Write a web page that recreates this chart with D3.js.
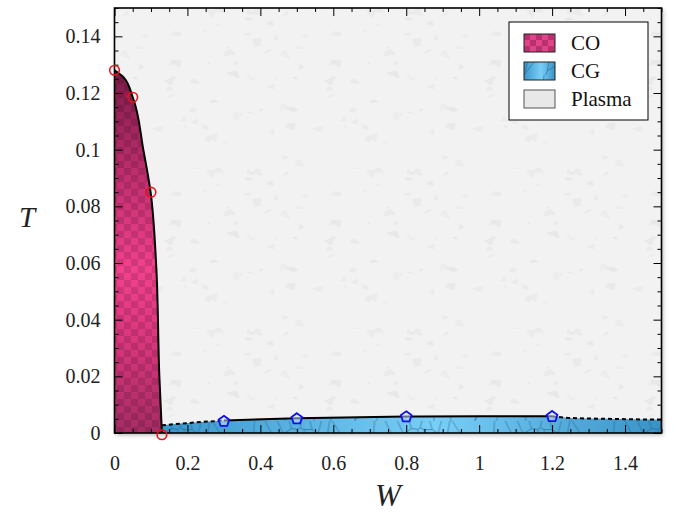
<!DOCTYPE html>
<html>
<head>
<meta charset="utf-8">
<script src="https://cdn.jsdelivr.net/npm/d3@7"></script>
<style>
  body { margin: 0; background: #fff; }
</style>
</head>
<body>
<svg id="chart" width="680" height="514"></svg>
<script>
// phase boundary of the CO region (W as a function of T)
const coW = [0, 0.025, 0.05, 0.079, 0.099, 0.114, 0.123, 0.13]
const coT = [0.128, 0.1255, 0.1185, 0.1, 0.085, 0.06, 0.02, 0]
// upper boundary of the CG region
const cgW = [0.13, 0.2, 0.3, 0.5, 0.8, 1.0, 1.2, 1.25, 1.35, 1.5]
const cgT = [0.0027, 0.0035, 0.0044, 0.0052, 0.0058, 0.0059, 0.0059, 0.0053, 0.005, 0.0047]
// simulation points
const coPtsW = [0, 0.05, 0.1, 0.13]
const coPtsT = [0.128, 0.1185, 0.085, -0.0006]
const cgPtsW = [0.3, 0.5, 0.8, 1.2]
const cgPtsT = [0.0041, 0.005, 0.0057, 0.0058]
// axes
const xTicks = [0, 0.2, 0.4, 0.6, 0.8, 1, 1.2, 1.4]
const xTickLabels = ["0", "0.2", "0.4", "0.6", "0.8", "1", "1.2", "1.4"]
const yTicks = [0, 0.02, 0.04, 0.06, 0.08, 0.1, 0.12, 0.14]
const yTickLabels = ["0", "0.02", "0.04", "0.06", "0.08", "0.1", "0.12", "0.14"]
const legendLabels = ["CO", "CG", "Plasma"]

const margin = {top: 8, right: 18.5, bottom: 81, left: 114.5}
const width = 680, height = 514
const w = width - margin.left - margin.right
const h = height - margin.top - margin.bottom
const serif = "'Liberation Serif'"

const svg = d3.select("#chart")
const defs = svg.append("defs")

const x = d3.scaleLinear().domain([0, 1.5]).range([0, w])
const y = d3.scaleLinear().domain([0, 0.15]).range([h, 0])

// small deterministic generator, only used for background textures
let seed = 11
function rnd() { seed = (seed * 16807) % 2147483647; return (seed - 1) / 2147483646 }

// --- textures ---
// plasma: pale grey with faint flakes
let pl = defs.append("pattern").attr("id", "plasma").attr("patternUnits", "userSpaceOnUse")
  .attr("width", 160).attr("height", 160)
pl.append("rect").attr("width", 160).attr("height", 160).attr("fill", "#f2f2f2")
for (let i = 0; i < 55; i++) {
  let cx = rnd() * 160, cy = rnd() * 160, r = 3 + rnd() * 7, a0 = rnd() * 6.28
  let n = 3 + Math.floor(rnd() * 2)
  let pts = d3.range(n).map(k => {
    let a = a0 + k * 6.28 / n + rnd() * 0.9, rr = r * (0.3 + rnd() * 0.9)
    return [cx + Math.cos(a) * rr, cy + Math.sin(a) * rr * 0.6]
  })
  pl.append("path").attr("d", "M" + pts.join("L") + "Z").attr("fill", "#e7e7e7").attr("opacity", 0.5 + rnd() * 0.4)
}

// CO: checkerboard over a vertical gradient
let coGrad = defs.append("linearGradient").attr("id", "coGrad").attr("x1", 0).attr("y1", 0).attr("x2", 0).attr("y2", 1)
coGrad.selectAll("stop").data([[0, "#7c1c48"], [0.3, "#c22f70"], [0.55, "#f2418d"], [0.75, "#d8367c"], [1, "#a52c64"]])
  .join("stop").attr("offset", d => d[0]).attr("stop-color", d => d[1])
let chk = defs.append("pattern").attr("id", "checker").attr("patternUnits", "userSpaceOnUse")
  .attr("width", 14).attr("height", 14).attr("x", margin.left).attr("y", margin.top + h)
chk.append("rect").attr("width", 7).attr("height", 7).attr("fill", "#000").attr("opacity", 0.13)
chk.append("rect").attr("x", 7).attr("y", 7).attr("width", 7).attr("height", 7).attr("fill", "#000").attr("opacity", 0.13)

// CG: cracked cells over a horizontal gradient
let cgGrad = defs.append("linearGradient").attr("id", "cgGrad").attr("x1", 0).attr("y1", 0).attr("x2", 1).attr("y2", 0)
cgGrad.selectAll("stop").data([[0, "#3a97cc"], [0.55, "#79cef7"], [1, "#3992c6"]])
  .join("stop").attr("offset", d => d[0]).attr("stop-color", d => d[1])
let cell = defs.append("pattern").attr("id", "cells").attr("patternUnits", "userSpaceOnUse")
  .attr("width", 120).attr("height", 40).attr("y", margin.top + h - 20)
let seeds = d3.range(26).map(() => [rnd() * 120, rnd() * 40])
let vor = d3.Delaunay.from(seeds).voronoi([0, 0, 120, 40])
cell.append("path").attr("d", vor.render()).attr("fill", "none")
  .attr("stroke", "#23648f").attr("stroke-width", 0.8).attr("opacity", 0.75)

// legend swatch versions
let chkS = defs.append("pattern").attr("id", "checkerS").attr("patternUnits", "userSpaceOnUse")
  .attr("width", 12).attr("height", 12)
chkS.append("rect").attr("width", 12).attr("height", 12).attr("fill", "#e0458a")
chkS.append("rect").attr("width", 6).attr("height", 6).attr("fill", "#b8306e")
chkS.append("rect").attr("x", 6).attr("y", 6).attr("width", 6).attr("height", 6).attr("fill", "#b8306e")

let shadow = defs.append("filter").attr("id", "shadow").attr("x", -0.05).attr("y", -0.05).attr("width", 1.1).attr("height", 1.1)
shadow.append("feDropShadow").attr("dx", 1.5).attr("dy", 2).attr("stdDeviation", 2).attr("flood-color", "#000").attr("flood-opacity", 0.3)

let clip = defs.append("clipPath").attr("id", "plotClip")
clip.append("rect").attr("width", w).attr("height", h)

const g = svg.append("g").attr("transform", "translate(" + margin.left + "," + margin.top + ")")

g.append("rect").attr("width", w).attr("height", h).attr("fill", "#f2f2f2").attr("filter", "url(#shadow)")
g.append("rect").attr("width", w).attr("height", h).attr("fill", "url(#plasma)")

const plot = g.append("g").attr("clip-path", "url(#plotClip)")

// CO region
let coData = coW.map((d, i) => ({W: d, T: coT[i]}))
let coArea = d3.area()
  .y(d => y(d.T))
  .x0(x(0))
  .x1(d => x(d.W))
  .curve(d3.curveMonotoneY)
plot.append("path").datum(coData).attr("d", coArea).attr("fill", "url(#coGrad)")
plot.append("path").datum(coData).attr("d", coArea).attr("fill", "url(#checker)")

// CG region
let cgData = cgW.map((d, i) => ({W: d, T: cgT[i]}))
let cgArea = d3.area()
  .x(d => x(d.W))
  .y0(y(0))
  .y1(d => y(d.T))
  .curve(d3.curveMonotoneX)
plot.append("path").datum(cgData).attr("d", cgArea).attr("fill", "url(#cgGrad)")
plot.append("path").datum(cgData).attr("d", cgArea).attr("fill", "url(#cells)")

// boundaries
let coLine = d3.line().x(d => x(d.W)).y(d => y(d.T)).curve(d3.curveMonotoneY)
g.append("path").datum(coData).attr("d", coLine)
  .attr("fill", "none").attr("stroke", "#000").attr("stroke-width", 2)

let cgLine = d3.line().x(d => x(d.W)).y(d => y(d.T)).curve(d3.curveMonotoneX)
let segs = [
  {pts: cgData.filter(d => d.W <= 0.3), dash: "4,3"},
  {pts: cgData.filter(d => d.W >= 0.3 && d.W <= 1.2), dash: null},
  {pts: cgData.filter(d => d.W >= 1.2), dash: "4,3"}
]
segs.forEach(s => {
  g.append("path").datum(s.pts).attr("d", cgLine)
    .attr("fill", "none").attr("stroke", "#000").attr("stroke-width", 2)
    .attr("stroke-dasharray", s.dash)
})

// frame ticks (inside, all four sides)
const xMinor = d3.range(0, 1.5001, 0.05).filter(v => !xTicks.some(t => Math.abs(t - v) < 1e-6))
const yMinor = d3.range(0, 0.15001, 0.005).filter(v => !yTicks.some(t => Math.abs(t - v) < 1e-6))

function tickStyle(sel) {
  sel.select(".domain").remove()
  sel.selectAll("line").attr("stroke", "#000").attr("stroke-width", 1)
  sel.selectAll("text").attr("font-size", 20).attr("fill", "#222").style("font-family", serif)
}

g.append("g").attr("transform", "translate(0," + h + ")")
  .call(d3.axisBottom(x).tickValues(xTicks).tickSize(-8).tickPadding(23).tickFormat((d, i) => xTickLabels[i]))
  .call(tickStyle)
g.append("g").attr("transform", "translate(0," + h + ")")
  .call(d3.axisBottom(x).tickValues(xMinor).tickSize(-4).tickFormat("")).call(tickStyle)
g.append("g")
  .call(d3.axisTop(x).tickValues(xTicks).tickSize(-8).tickFormat("")).call(tickStyle)
g.append("g")
  .call(d3.axisTop(x).tickValues(xMinor).tickSize(-4).tickFormat("")).call(tickStyle)

g.append("g")
  .call(d3.axisLeft(y).tickValues(yTicks).tickSize(-8).tickPadding(14).tickFormat((d, i) => yTickLabels[i]))
  .call(tickStyle)
g.append("g")
  .call(d3.axisLeft(y).tickValues(yMinor).tickSize(-4).tickFormat("")).call(tickStyle)
g.append("g").attr("transform", "translate(" + w + ",0)")
  .call(d3.axisRight(y).tickValues(yTicks).tickSize(-8).tickFormat("")).call(tickStyle)
g.append("g").attr("transform", "translate(" + w + ",0)")
  .call(d3.axisRight(y).tickValues(yMinor).tickSize(-4).tickFormat("")).call(tickStyle)

g.append("rect").attr("width", w).attr("height", h)
  .attr("fill", "none").attr("stroke", "#000").attr("stroke-width", 1.6)

// markers
g.selectAll(".co-pt").data(coPtsW.map((d, i) => ({W: d, T: coPtsT[i]})))
  .join("circle").attr("class", "co-pt")
  .attr("cx", d => x(d.W)).attr("cy", d => y(d.T)).attr("r", 4.8)
  .attr("fill", "none").attr("stroke", "#e8141c").attr("stroke-width", 1.6)

function pentagon(r) {
  return "M" + d3.range(5).map(k => {
    let a = -Math.PI / 2 + k * 2 * Math.PI / 5
    return [Math.cos(a) * r, Math.sin(a) * r]
  }).join("L") + "Z"
}
g.selectAll(".cg-pt").data(cgPtsW.map((d, i) => ({W: d, T: cgPtsT[i]})))
  .join("path").attr("class", "cg-pt")
  .attr("transform", d => "translate(" + x(d.W) + "," + y(d.T) + ")")
  .attr("d", pentagon(5.6))
  .attr("fill", "#cfe6ff").attr("fill-opacity", 0.5)
  .attr("stroke", "#1010e8").attr("stroke-width", 1.8)

// axis titles
svg.append("text").attr("x", 27).attr("y", 227).attr("text-anchor", "middle")
  .attr("font-size", 29).attr("fill", "#222").style("font-family", serif).style("font-style", "italic").text("T")
svg.append("text").attr("x", margin.left + w / 2).attr("y", 506).attr("text-anchor", "middle")
  .attr("font-size", 31).attr("fill", "#222").style("font-family", serif).style("font-style", "italic").text("W")

// legend
const lg = svg.append("g").attr("transform", "translate(509,22)")
lg.append("rect").attr("width", 139).attr("height", 98).attr("fill", "#fff").attr("stroke", "#000").attr("stroke-width", 1)
const fills = ["url(#checkerS)", "url(#cgGrad)", "#e8e8e8"]
legendLabels.forEach((lab, i) => {
  let row = lg.append("g").attr("transform", "translate(15," + (12 + i * 28) + ")")
  row.append("rect").attr("width", 31).attr("height", 18).attr("fill", fills[i])
  if (i == 1) row.append("rect").attr("width", 31).attr("height", 18).attr("fill", "url(#cells)")
  row.append("rect").attr("width", 31).attr("height", 18).attr("fill", "none")
    .attr("stroke", i == 2 ? "#555" : "#222").attr("stroke-width", 1)
  row.append("text").attr("x", 47).attr("y", 16).attr("font-size", 21).attr("fill", "#111")
    .style("font-family", serif).text(lab)
})
</script>
</body>
</html>
